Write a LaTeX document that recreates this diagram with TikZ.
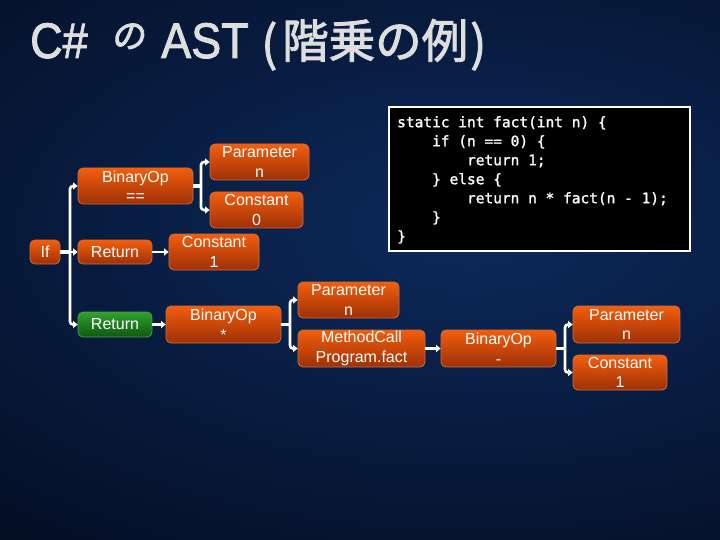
\documentclass[tikz,border=0pt]{standalone}
\usepackage{fontspec}
\setmainfont{Liberation Sans}
\newfontfamily\titlefont{Liberation Sans}
\newfontfamily\jpfont{Noto Sans CJK JP}
\newfontfamily\codefont{DejaVu Sans Mono}
\usetikzlibrary{arrows.meta}
\newcommand\heavytext[1]{\special{pdf:literal direct 2 Tr 0.9 w}#1\special{pdf:literal direct 0 Tr}}
\newcommand\semiheavy[1]{\special{pdf:literal direct 2 Tr 0.2 w}#1\special{pdf:literal direct 0 Tr}}
\definecolor{bgdark}{RGB}{2,5,18}
\definecolor{bgmid}{RGB}{12,42,92}
\definecolor{ortop}{RGB}{242,94,14}
\definecolor{orbot}{RGB}{158,48,6}
\definecolor{orline}{RGB}{210,110,60}
\definecolor{grtop}{RGB}{48,160,48}
\definecolor{grbot}{RGB}{14,88,14}
\definecolor{grline}{RGB}{80,160,70}
\definecolor{titlegray}{RGB}{222,222,222}
\tikzset{
  astnode/.style={rounded corners=5pt, top color=ortop, bottom color=orbot,
    draw=orline, line width=0.8pt, text=white, align=center,
    font=\fontsize{16}{19.5}\selectfont, inner sep=0pt},
  greennode/.style={astnode, top color=grtop, bottom color=grbot, draw=grline},
  wire/.style={draw=white, line width=2.6pt},
  stub/.style={draw=white, line width=3.6pt},
  arr/.style={wire, rounded corners=3pt, -{Triangle[length=4.5pt,width=7pt]}},
  codebox/.style={draw=white, fill=black, line width=2pt, inner sep=0pt},
  codetext/.style={text=white, align=left, inner sep=0pt,
    font=\codefont\fontsize{14.5}{19}\selectfont},
  titletext/.style={text=titlegray, inner sep=0pt, anchor=base west}
}
\begin{document}
\begin{tikzpicture}[x=1pt,y=-1pt]
\useasboundingbox (0,0) rectangle (720,540);
\fill[bgdark] (0,0) rectangle (720,540);
\begin{scope}
  \clip (0,0) rectangle (720,540);
  \shade[inner color=bgmid, outer color=bgdark] (-530,-290) rectangle (1470,750);
\end{scope}

% title
\node[titletext, font=\titlefont\fontsize{50}{50}\selectfont, xscale=0.9] (t1) at (30,58) {\heavytext{C\#}};
\node[titletext, font=\jpfont\fontsize{34}{34}\selectfont, xslant=0.15] (t2) at (111,48) {\heavytext{の}};
\node[titletext, font=\titlefont\fontsize{50}{50}\selectfont, xscale=0.9] (t3) at (161,58) {\heavytext{AST}};
\node[titletext, font=\jpfont\fontsize{48}{48}\selectfont] (t4) at (261,61) {\heavytext{(}};
\node[titletext, font=\jpfont\fontsize{46.5}{46.5}\selectfont] (t5) at (282,58) {\heavytext{階乗の例}};
\node[titletext, font=\jpfont\fontsize{48}{48}\selectfont] (t6) at (470,61) {\heavytext{)}};

% nodes
\node[astnode, minimum width=30pt, minimum height=24pt] (if) at (45,252) {If};
\node[astnode, minimum width=74pt, minimum height=24pt] (ret1) at (115,252) {Return};
\node[astnode, minimum width=115pt, minimum height=36pt] (bin1) at (135.5,186) {BinaryOp\\==};
\node[astnode, minimum width=99pt, minimum height=36pt] (par1) at (259.5,162) {Parameter\\n};
\node[astnode, minimum width=93pt, minimum height=36pt] (con0) at (256.5,210) {Constant\\0};
\node[astnode, minimum width=90pt, minimum height=36pt] (con1) at (214,252) {Constant\\1};
\node[greennode, minimum width=74pt, minimum height=25pt] (ret2) at (115,324.5) {Return};
\node[astnode, minimum width=115pt, minimum height=37pt] (bin2) at (223.5,324.5) {BinaryOp\\*};
\node[astnode, minimum width=101pt, minimum height=36pt] (par2) at (348.5,300) {Parameter\\n};
\node[astnode, minimum width=127pt, minimum height=37pt] (mc) at (361.5,348.5) {MethodCall\\Program.fact};
\node[astnode, minimum width=115pt, minimum height=37pt] (bin3) at (498.5,348.5) {BinaryOp\\-};
\node[astnode, minimum width=107pt, minimum height=37pt] (par3) at (626.5,324.5) {Parameter\\n};
\node[astnode, minimum width=94pt, minimum height=35pt] (con2) at (620,372.5) {Constant\\1};

% code box
\node[codebox, minimum width=301pt, minimum height=144pt] (code) at (539.5,179) {};
\node[codetext, anchor=north west] (codetxt) at (397,116) {\semiheavy{static int fact(int n) \{}\\
\phantom{xxxx}\semiheavy{if (n == 0) \{}\\
\phantom{xxxxxxxx}\semiheavy{return 1;}\\
\phantom{xxxx}\semiheavy{\} else \{}\\
\phantom{xxxxxxxx}\semiheavy{return n * fact(n - 1);}\\
\phantom{xxxx}\semiheavy{\}}\\
\semiheavy{\}}};

% connectors
\coordinate (j1) at (70,252);
\draw[stub] (if.east) -- (j1);
\draw[arr] (j1) |- (bin1.west);
\draw[arr] (j1) -- (ret1.west);
\draw[arr] (j1) |- (ret2.west);

\coordinate (j2) at (201,186);
\draw[stub] (bin1.east) -- (j2);
\draw[arr] (j2) |- (par1.west);
\draw[arr] (j2) |- (con0.west);

\draw[arr] (ret1.east) -- (con1.west);
\draw[arr] (ret2.east) -- (bin2.west);

\coordinate (j3) at (290,324.5);
\draw[stub] (bin2.east) -- (j3);
\draw[arr] (j3) |- (par2.west);
\draw[arr] (j3) |- (mc.west);

\draw[arr] (mc.east) -- (bin3.west);

\coordinate (j4) at (565,348.5);
\draw[stub] (bin3.east) -- (j4);
\draw[arr] (j4) |- (par3.west);
\draw[arr] (j4) |- (con2.west);
\end{tikzpicture}
\end{document}
